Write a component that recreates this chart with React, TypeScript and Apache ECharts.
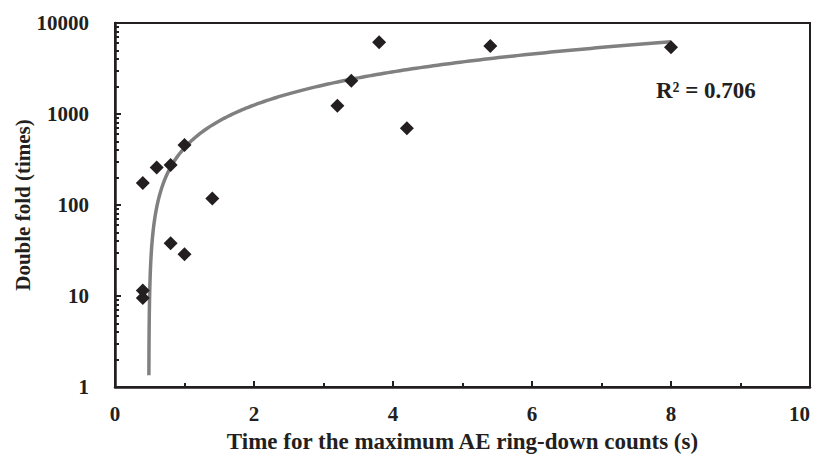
import React, { useEffect, useRef } from "react";
import * as echarts from "echarts";

const timeS = [0.4, 0.4, 0.4, 0.6, 0.8, 0.8, 1.0, 1.0, 1.4, 3.2, 3.4, 3.8, 4.2, 5.4, 8.0];
const doubleFold = [174, 11.5, 9.5, 259, 275, 38, 456, 28.7, 118, 1233, 2323, 6140, 697, 5590, 5410];
const xTicks = [0, 2, 4, 6, 8, 10];
const yMinorTicks = [2, 3, 4, 5, 6, 7, 8, 9, 20, 30, 40, 50, 60, 70, 80, 90, 200, 300, 400, 500, 600, 700, 800, 900, 2000, 3000, 4000, 5000, 6000, 7000, 8000, 9000];
const r2Label = "R² = 0.706";

function linearFit(xs: number[], ys: number[]) {
  const n = xs.length;
  const mx = xs.reduce((a, b) => a + b, 0) / n;
  const my = ys.reduce((a, b) => a + b, 0) / n;
  let sxy = 0, sxx = 0;
  for (let i = 0; i < n; i++) {
    sxy += (xs[i] - mx) * (ys[i] - my);
    sxx += (xs[i] - mx) * (xs[i] - mx);
  }
  const slope = sxy / sxx;
  return { slope, intercept: my - slope * mx };
}

export default function App() {
  const ref = useRef<HTMLDivElement>(null);
  useEffect(() => {
    if (!ref.current) return;
    const chart = echarts.init(ref.current, null, { renderer: "svg" });
    const { slope, intercept } = linearFit(timeS, doubleFold);
    const xEnd = Math.max(...timeS);
    const xStart = (1.35 - intercept) / slope;
    const trend: number[][] = [];
    const N = 240;
    for (let i = 0; i <= N; i++) {
      const t = i / N;
      const x = xStart + (xEnd - xStart) * t * t * t;
      trend.push([x, slope * x + intercept]);
    }
    const font = "'Liberation Serif', 'Times New Roman', serif";
    const ink = "#231f20";
    chart.setOption({
      animation: false,
      textStyle: { fontFamily: font },
      grid: {
        left: 115,
        right: 9,
        top: 23,
        bottom: 69,
        show: true,
        borderColor: ink,
        borderWidth: 2,
        containLabel: false,
        outerBoundsMode: "none",
      },
      xAxis: {
        type: "value",
        min: 0,
        max: 10,
        interval: 2,
        name: "Time for the maximum AE ring-down counts (s)",
        nameLocation: "middle",
        nameGap: 43,
        nameMoveOverlap: false,
        nameTextStyle: { fontFamily: font, fontWeight: "bold", fontSize: 23, color: ink },
        axisLine: { show: true, lineStyle: { color: ink, width: 2.5 } },
        axisTick: { show: true, inside: true, length: 6, lineStyle: { color: ink, width: 2 } },
        minorTick: { show: true, splitNumber: 2, length: 4, lineStyle: { color: ink, width: 2 } },
        splitLine: { show: false },
        axisLabel: {
          fontFamily: font,
          fontWeight: "bold",
          fontSize: 21,
          color: ink,
          margin: 16,
          customValues: xTicks,
          alignMaxLabel: "right",
        },
      },
      yAxis: [
        {
          type: "log",
          logBase: 10,
          min: 1,
          max: 10000,
          name: "Double fold (times)",
          nameLocation: "middle",
          nameGap: 82,
          nameMoveOverlap: false,
          nameTextStyle: { fontFamily: font, fontWeight: "bold", fontSize: 21, color: ink },
          axisLine: { show: true, lineStyle: { color: ink, width: 2.5 } },
          axisTick: { show: true, inside: true, length: 6, lineStyle: { color: ink, width: 2 } },
          splitLine: { show: false },
          axisLabel: {
            fontFamily: font,
            fontWeight: "bold",
            fontSize: 21,
            color: ink,
            margin: 26,
            formatter: (v: number) => String(Math.round(v)),
          },
        },
        {
          type: "log",
          logBase: 10,
          min: 1,
          max: 10000,
          position: "left",
          axisLine: { show: false },
          axisTick: { show: true, inside: true, length: 4, customValues: yMinorTicks, lineStyle: { color: ink, width: 2 } },
          axisLabel: { show: false },
          splitLine: { show: false },
        },
      ],
      series: [
        {
          type: "line",
          data: trend,
          showSymbol: false,
          symbol: "none",
          lineStyle: { color: "#808080", width: 3.5 },
          z: 2,
        },
        {
          type: "scatter",
          data: timeS.map((x, i) => [x, doubleFold[i]]),
          symbol: "diamond",
          symbolSize: 14,
          itemStyle: { color: ink, opacity: 1 },
          z: 3,
        },
      ],
      graphic: [
        {
          type: "text",
          left: 656,
          top: 79,
          style: { text: r2Label, fontFamily: font, fontWeight: "bold", fontSize: 23, fill: ink },
        },
      ],
    });
    return () => chart.dispose();
  }, []);
  return <div ref={ref} style={{ width: 819, height: 456, position: "absolute", left: 0, top: 0 }} />;
}
